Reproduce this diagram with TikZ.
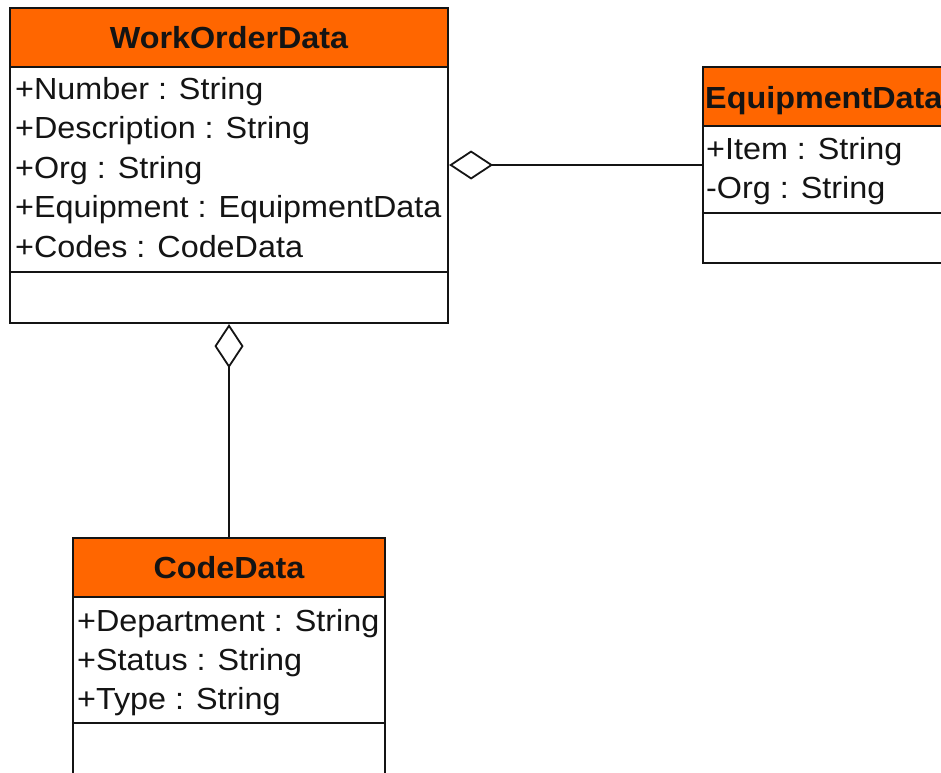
\documentclass[tikz,border=0pt]{standalone}
\usepackage{fontspec}
\setmainfont[FakeStretch=1.06]{Liberation Sans}
\usetikzlibrary{arrows.meta}
\definecolor{hdr}{RGB}{255,102,0}
\definecolor{ink}{RGB}{20,20,20}
\tikzset{
  classbox/.style={draw=ink, line width=2.2pt, fill=white, inner sep=0pt, rectangle},
  hdrbox/.style={draw=ink, line width=2.2pt, fill=hdr, inner sep=0pt, rectangle},
  attr/.style={anchor=base west, inner sep=0pt, text=ink, font=\fontsize{30.5}{36}\selectfont},
  title/.style={anchor=base, inner sep=0pt, text=ink, font=\fontsize{30.5}{36}\selectfont\bfseries},
  divider/.style={draw=ink, line width=2.2pt},
  agg/.style={draw=ink, line width=1.8pt, -{Diamond[length=44pt, width=29pt, fill=white, line width=1.8pt]}}
}
\begin{document}
\begin{tikzpicture}[x=1pt,y=-1pt]
\useasboundingbox (0,0) rectangle (941,772);
\clip (0,0) rectangle (941,772);
\fill[white] (0,0) rectangle (941,772);

% WorkOrderData
\node[classbox, minimum width=438pt, minimum height=315pt] (wo) at (229,165.5) {};
\node[hdrbox, minimum width=438pt, minimum height=59pt] (wohdr) at (229,37.5) {};
\draw[divider] (wo.west |- 0,272) -- (wo.east |- 0,272);
\node[title] (wot) at (229,48) {WorkOrderData};
\node[attr] (wo1) at (15,99) {+Number : String};
\node[attr] (wo2) at (15,138.5) {+Description : String};
\node[attr] (wo3) at (15,178) {+Org : String};
\node[attr] (wo4) at (15,217.5) {+Equipment : EquipmentData};
\node[attr] (wo5) at (15,257) {+Codes : CodeData};

% EquipmentData (cut off at right)
\node[classbox, minimum width=300pt, minimum height=196pt] (eq) at (853,165) {};
\node[hdrbox, minimum width=300pt, minimum height=59pt] (eqhdr) at (853,96.5) {};
\draw[divider] (eq.west |- 0,213) -- (eq.east |- 0,213);
\node[title, anchor=base west] (eqt) at (705,108) {EquipmentData};
\node[attr] (eq1) at (706,159) {+Item : String};
\node[attr] (eq2) at (706,198) {-Org : String};

% CodeData (cut off at bottom)
\node[classbox, minimum width=312pt, minimum height=300pt] (cd) at (229,688) {};
\node[hdrbox, minimum width=312pt, minimum height=59pt] (cdhdr) at (229,567.5) {};
\draw[divider] (cd.west |- 0,723) -- (cd.east |- 0,723);
\node[title] (cdt) at (229,578) {CodeData};
\node[attr] (cd1) at (77,631) {+Department : String};
\node[attr] (cd2) at (77,670) {+Status : String};
\node[attr] (cd3) at (77,709) {+Type : String};

% aggregations
\draw[agg] (cd.north) -- (wo.south);
\draw[agg] (eq.west) -- (eq.west -| wo.east);
\end{tikzpicture}
\end{document}
